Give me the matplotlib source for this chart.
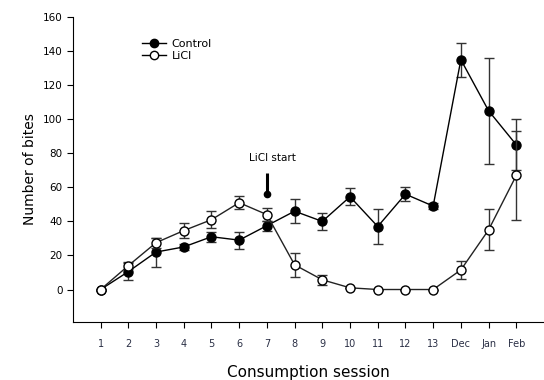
import matplotlib.pyplot as plt
from matplotlib.lines import Line2D
import numpy as np

sessions = ["1", "2", "3", "4", "5", "6", "7", "8", "9", "10", "11", "12", "13",
            "Dec", "Jan", "Feb"]
control = [0, 10.5, 22, 25, 31, 29, 37.5, 46, 40, 54.5, 37, 56, 49, 135, 105, 85]
control_err = [0, 5, 8.5, 2, 3, 5, 3, 7, 5, 5, 10, 4, 2, 10, 31, 15]
licl = [0, 14, 27.5, 34.6, 41, 51, 44, 14.5, 5.7, 1, 0, 0, 0, 11.5, 35, 67]
licl_err = [0, 2, 3, 4.5, 5, 4, 4, 7, 3, 0, 0, 0, 0, 5.5, 12, 26]

x = np.arange(1, len(sessions) + 1)

fig = plt.figure(figsize=(5.44, 3.8), dpi=100)
ax = fig.add_axes([0.134, 0.153, 0.866, 0.802])

ax.errorbar(x, control, yerr=control_err, color="black", ecolor="#333333",
            elinewidth=1, capsize=3.5, marker="o", markersize=6.5,
            markerfacecolor="black", markeredgecolor="black", linewidth=1,
            zorder=3)
ax.errorbar(x, licl, yerr=licl_err, color="#222222", ecolor="#333333",
            elinewidth=1, capsize=3.5, marker="o", markersize=6.5,
            markerfacecolor="white", markeredgecolor="black", linewidth=1,
            zorder=4)

# LiCl start marker
ax.plot([7, 7], [56.5, 68.6], color="black", lw=2.2, solid_capstyle="butt")
ax.plot([7], [56.2], "o", color="black", markersize=4.5, zorder=5)
ax.text(7.2, 77.4, "LiCl start", ha="center", va="center", fontsize=7.5)

ax.set_xlim(0, 17)
ax.set_ylim(-19, 160)
ax.set_xticks(x)
ax.set_xticklabels(sessions, fontsize=7, color="#2a2f45")
ax.set_yticks(np.arange(0, 161, 20))
ax.tick_params(axis="y", labelsize=7.5, length=4, direction="out")
ax.tick_params(axis="x", length=4, pad=8, direction="out")
ax.spines["top"].set_visible(False)
ax.spines["right"].set_visible(False)

ax.set_ylabel("Number of bites", fontsize=10)
ax.set_xlabel("Consumption session", fontsize=11, labelpad=12)

handles = [
    Line2D([], [], color="black", lw=1, marker="o", markersize=6,
           markerfacecolor="black", markeredgecolor="black"),
    Line2D([], [], color="black", lw=1, marker="o", markersize=6,
           markerfacecolor="white", markeredgecolor="black"),
]
ax.legend(handles, ["Control", "LiCl"], loc="upper left",
          bbox_to_anchor=(0.125, 0.96), frameon=False, fontsize=8,
          handlelength=2.2, handletextpad=0.5, labelspacing=0.15)

fig.savefig("out.png", dpi=100)
